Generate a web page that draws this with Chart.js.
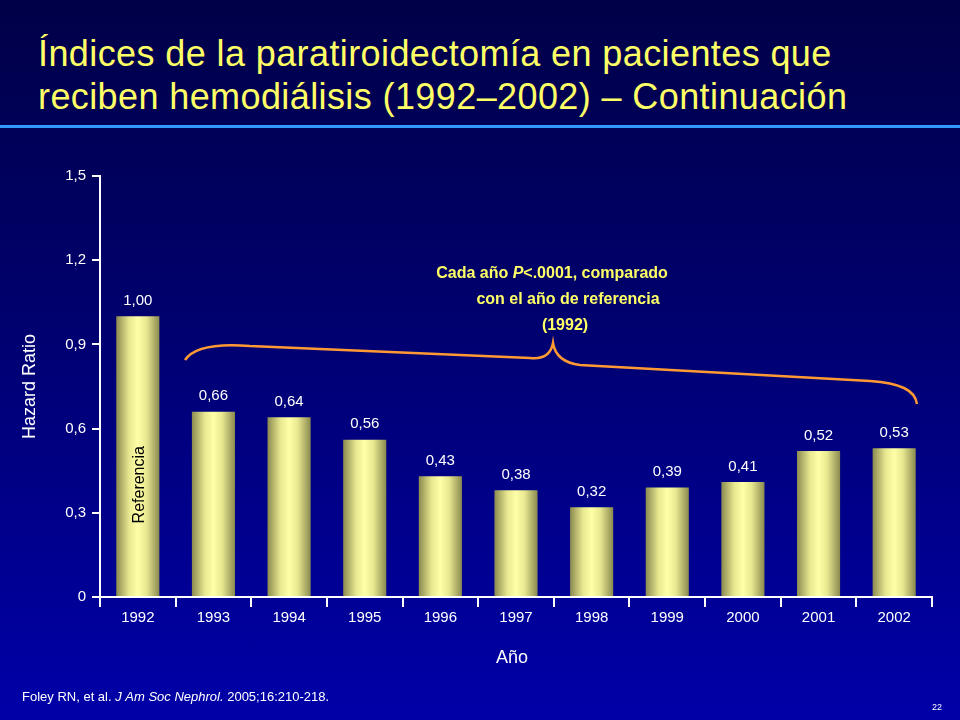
<!DOCTYPE html><html><head><meta charset="utf-8">
<script src="https://cdn.jsdelivr.net/npm/chart.js@4"></script>
<style>html,body{margin:0;padding:0;}body{width:960px;height:720px;background:linear-gradient(#000048 0%,#00006a 40%,#0000a8 100%);}
#t{position:absolute;left:38px;top:32px;color:#ffff66;font:36px "Liberation Sans",Arial,sans-serif;line-height:43px;margin:0;letter-spacing:0.4px;white-space:nowrap;}
#hr{position:absolute;left:0;top:125px;width:960px;height:3px;background:#3399ff;}
</style></head><body>
<div id="t">Índices de la paratiroidectomía en pacientes que<br>reciben hemodiálisis (1992–2002) – Continuación</div>
<div id="hr"></div>
<canvas id="c" width="960" height="720" style="position:absolute;left:0;top:0"></canvas>
<script>
const years=["1992","1993","1994","1995","1996","1997","1998","1999","2000","2001","2002"];
const hazard=[1.00,0.66,0.64,0.56,0.43,0.38,0.32,0.39,0.41,0.52,0.53];
const labels=["1,00","0,66","0,64","0,56","0,43","0,38","0,32","0,39","0,41","0,52","0,53"];
const yTicks=[0,0.3,0.6,0.9,1.2,1.5];
const yTickLabels=["0","0,3","0,6","0,9","1,2","1,5"];
const F='"Liberation Sans",Arial,sans-serif';
const CP=0.57;
function barFill(ctx){
  const ch=ctx.chart, xs=ch.scales.x;
  if(!xs||ctx.dataIndex===undefined) return '#eeee88';
  const cx=xs.getPixelForValue(ctx.dataIndex), w=(xs.width/years.length)*CP;
  if(!isFinite(cx)||!isFinite(w)||w<=0) return '#eeee88';
  const g=ch.ctx.createLinearGradient(cx-w/2,0,cx+w/2,0);
  g.addColorStop(0,'#8a8a50');g.addColorStop(0.3,'#e8e890');g.addColorStop(0.5,'#ffffa8');g.addColorStop(0.7,'#e8e890');g.addColorStop(1,'#8a8a50');
  return g;
}
const deco={id:'deco',afterDatasetsDraw(ch){
  const c=ch.ctx,xs=ch.scales.x,ys=ch.scales.y;
  c.save();
  c.fillStyle='#fff';c.font='15px '+F;c.textAlign='center';c.textBaseline='bottom';
  hazard.forEach((v,i)=>c.fillText(labels[i],xs.getPixelForValue(i),ys.getPixelForValue(v)-8));
  c.save();c.translate(xs.getPixelForValue(0)+2,ys.getPixelForValue(0.4));c.rotate(-Math.PI/2);
  c.fillStyle='#000';c.font='16px '+F;c.textBaseline='middle';c.fillText('Referencia',0,0);c.restore();
  c.fillStyle='#fff';c.font='18px '+F;
  c.save();c.translate(30,ys.getPixelForValue(0.75));c.rotate(-Math.PI/2);c.textBaseline='middle';c.fillText('Hazard Ratio',0,0);c.restore();
  c.textBaseline='middle';c.fillText('Año',512,658);
  c.fillStyle='#ffff66';
  const l1a='Cada año ',l1b='P',l1c='<.0001, comparado';
  c.font='bold 16px '+F;const wa=c.measureText(l1a).width,wc=c.measureText(l1c).width;
  c.font='bold italic 16px '+F;const wb=c.measureText(l1b).width;
  let x0=552-(wa+wb+wc)/2;c.textAlign='left';
  c.font='bold 16px '+F;c.fillText(l1a,x0,274);
  c.font='bold italic 16px '+F;c.fillText(l1b,x0+wa,274);
  c.font='bold 16px '+F;c.fillText(l1c,x0+wa+wb,274);
  c.textAlign='center';c.fillText('con el año de referencia',568,300);c.fillText('(1992)',565,326);
  c.strokeStyle='#ff9933';c.lineWidth=2.5;c.beginPath();
  c.moveTo(185,360);c.bezierCurveTo(195,345,225,344,250,346);
  c.quadraticCurveTo(400,352,530,358);c.quadraticCurveTo(550,360,553,343);
  c.quadraticCurveTo(556,362,580,365);c.lineTo(870,381);
  c.bezierCurveTo(900,383,915,390,917,404);c.stroke();
  c.fillStyle='#fff';c.textAlign='left';
  let fx=22;const parts=[['Foley RN, et al. ',''],['J Am Soc Nephrol.','italic '],[' 2005;16:210-218.','']];
  parts.forEach(p=>{c.font=p[1]+'13px '+F;c.fillText(p[0],fx,697);fx+=c.measureText(p[0]).width;});
  c.font='9px '+F;c.fillText('22',932,708);
  c.restore();
}};
new Chart(document.getElementById('c'),{type:'bar',
 data:{labels:years,datasets:[{data:hazard,backgroundColor:barFill,categoryPercentage:CP,barPercentage:1}]},
 options:{responsive:false,animation:false,events:[],
  layout:{padding:{top:176,right:28,left:0,bottom:0}},
  plugins:{legend:{display:false},tooltip:{enabled:false}},
  scales:{
   x:{afterFit(s){s.height=123;},grid:{display:true,drawOnChartArea:false,offset:true,color:'#fff',tickLength:10,lineWidth:2},
      border:{color:'#fff',width:2},ticks:{color:'#fff',font:{size:15,family:F},padding:2}},
   y:{min:0,max:1.5,afterFit(s){s.width=100;},afterBuildTicks(s){s.ticks=yTicks.map(v=>({value:v}));},
      grid:{drawOnChartArea:false,color:'#fff',tickLength:8,lineWidth:2},border:{color:'#fff',width:2},
      ticks:{color:'#fff',font:{size:15,family:F},padding:6,callback:(v)=>yTickLabels[yTicks.indexOf(v)] ?? ''}}
  }},
 plugins:[deco]});
</script></body></html>
